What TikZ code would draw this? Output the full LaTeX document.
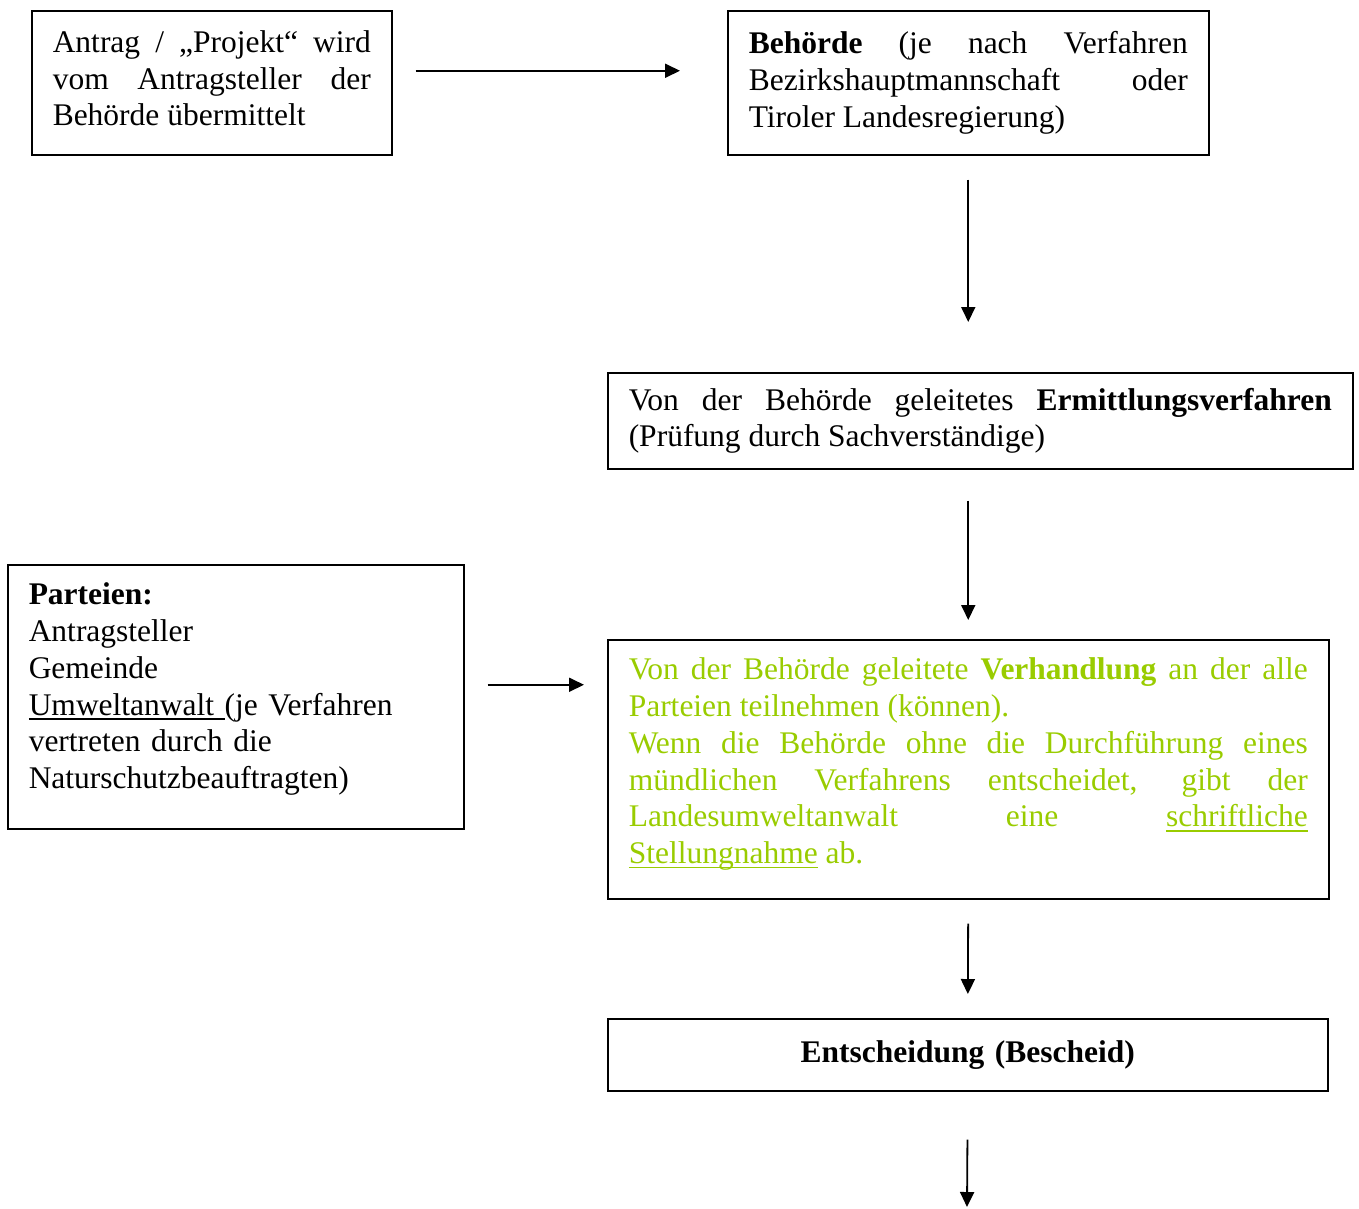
\documentclass[tikz,border=0pt]{standalone}
\usepackage{fontspec}
\setmainfont{Liberation Serif}
\usetikzlibrary{arrows.meta,positioning}
\definecolor{lime}{RGB}{153,204,0}
\newcommand{\unterstr}[1]{\leavevmode\setbox0\hbox{#1}\rlap{\rule[-5pt]{\wd0}{1.6pt}}\box0\relax}
\newcommand{\tiefe}[1]{\rule[-#1]{0pt}{1pt}}
\setlength{\parindent}{0pt}
\hyphenpenalty=10000
\tolerance=10000

\begin{document}
\begin{tikzpicture}[
  x=1pt, y=-1pt,
  box/.style={draw, line width=1.5pt, anchor=north west, align=justify, inner xsep=21pt, inner ysep=0pt,
    font=\fontsize{31.5}{36.7}\selectfont},
  >={Triangle[length=15pt,width=14pt]},
  arr/.style={->, line width=1.8pt}
]
\useasboundingbox (0,0) rectangle (1359,1208);

\node[box, text width=318pt, minimum height=144pt] (antrag) at (31,10)
  {Antrag / „Projekt“ wird\linebreak vom Antragsteller der\linebreak Behörde übermittelt\tiefe{9pt}};

\node[box, text width=439pt, minimum height=144pt] (behoerde) at (727,10)
  {\textbf{Behörde} (je nach Verfahren\linebreak Bezirkshauptmannschaft oder\linebreak Tiroler Landesregierung)};

\node[box, text width=703pt, minimum height=96pt] (ermittlung) at (607,372)
  {Von der Behörde geleitetes \textbf{Ermittlungsverfahren}\linebreak (Prüfung durch Sachverständige)};

\node[box, align=left, text width=414pt, minimum height=264pt] (parteien) at (7,564)
  {\textbf{Parteien:}\\ Antragsteller\\ Gemeinde\\ \unterstr{Umweltanwalt\ }(je Verfahren\\ vertreten durch die\\ Naturschutzbeauftragten)\tiefe{22pt}};

\node[box, text=lime, text width=679pt, minimum height=259pt] (verhandlung) at (607,639)
  {Von der Behörde geleitete \textbf{Verhandlung} an der alle\linebreak Parteien teilnehmen (können).\\
   Wenn die Behörde ohne die Durchführung eines\linebreak mündlichen Verfahrens entscheidet, gibt der\linebreak
   Landesumweltanwalt eine \unterstr{schriftliche}\linebreak \unterstr{Stellungnahme} ab.\tiefe{17pt}};

\node[box, align=center, text width=678pt, minimum height=72pt] (entscheidung) at (607,1018)
  {\textbf{Entscheidung (Bescheid)}};

\coordinate (ende) at (967,1207);

\draw[arr, shorten <=23pt, shorten >=47pt] ([yshift=12pt]antrag.east) -- ([yshift=12pt]behoerde.west);
\draw[arr, shorten <=24pt, shorten >=50pt] (behoerde.south) -- (behoerde.south |- ermittlung.north);
\draw[arr, shorten <=31pt, shorten >=19pt] (verhandlung.north |- ermittlung.south) -- (verhandlung.north);
\draw[arr, shorten <=23pt, shorten >=23pt] ([yshift=12pt]parteien.east) -- ([yshift=12pt]parteien.east -| verhandlung.west);
\draw[arr, shorten <=24pt, shorten >=24pt] (verhandlung.south) -- (entscheidung.north);
\draw[arr, shorten <=48pt] (entscheidung.south) -- (ende);
\end{tikzpicture}
\end{document}
